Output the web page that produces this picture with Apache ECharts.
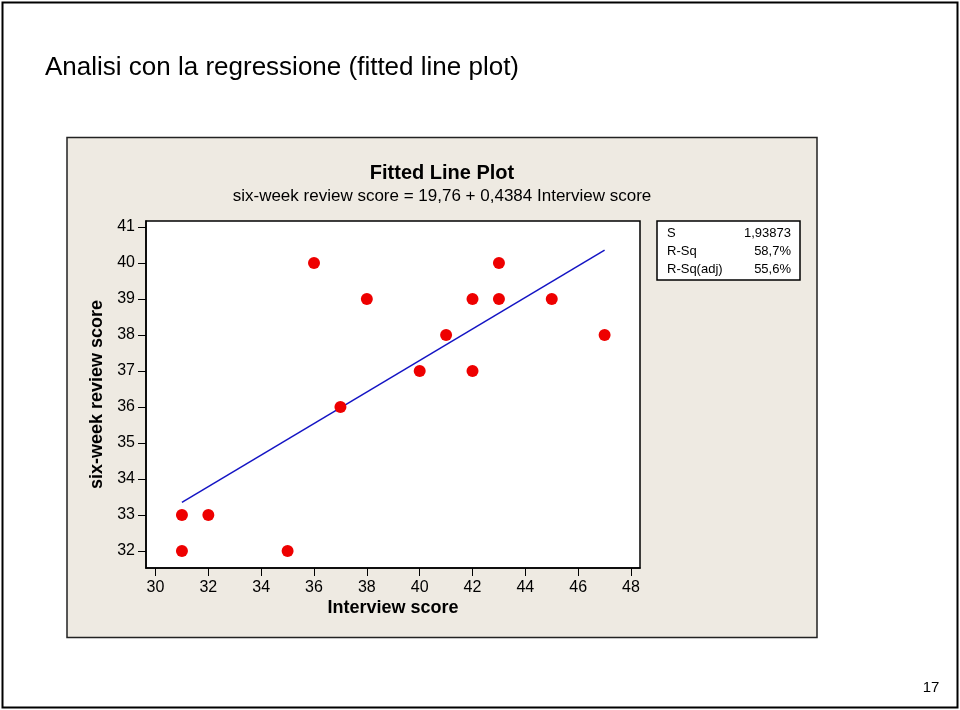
<!DOCTYPE html>
<html>
<head>
<meta charset="UTF-8">
<script src="https://cdn.jsdelivr.net/npm/echarts@6/dist/echarts.min.js"></script>
<style>
  html, body { margin: 0; padding: 0; background: #fff; }
  #main { width: 960px; height: 710px; }
</style>
</head>
<body>
<div id="main"></div>
<script>
// data
var interviewScore = [31, 31, 32, 35, 36, 37, 38, 40, 41, 42, 42, 43, 43, 45, 47];
var reviewScore    = [33, 32, 33, 32, 40, 36, 39, 37, 38, 39, 37, 40, 39, 39, 38];
// ends of the fitted line (19,76 + 0,4384 x), as drawn
var fitX = [31, 47];
var fitY = [33.35, 40.36];
var xTicks = [30, 32, 34, 36, 38, 40, 42, 44, 46, 48];
var yTicks = [32, 33, 34, 35, 36, 37, 38, 39, 40, 41];
var statNames  = ['S', 'R-Sq', 'R-Sq(adj)'];
var statValues = ['1,93873', '58,7%', '55,6%'];

var FONT = '"Liberation Sans", Arial, sans-serif';

var points = interviewScore.map(function (x, i) { return [x, reviewScore[i]]; });
var fitLine = fitX.map(function (x, i) { return [x, fitY[i]]; });

var statTexts = [];
statNames.forEach(function (n, i) {
  statTexts.push({ type: 'text', x: 667, y: 233 + i * 18,
    style: { text: n, font: '13px ' + FONT, fill: '#000', textVerticalAlign: 'middle' } });
  statTexts.push({ type: 'text', x: 791, y: 233 + i * 18,
    style: { text: statValues[i], font: '13px ' + FONT, fill: '#000', textAlign: 'right', textVerticalAlign: 'middle' } });
});

var chart = echarts.init(document.getElementById('main'));
chart.setOption({
  animation: false,
  backgroundColor: '#fff',
  grid: {
    left: 146, top: 221, width: 494, height: 347,
    show: true, backgroundColor: '#fff', borderColor: '#000', borderWidth: 1.5
  },
  xAxis: {
    type: 'value', min: 29.64, max: 48.34,
    name: 'Interview score', nameLocation: 'middle', nameGap: 31,
    nameTextStyle: { fontFamily: FONT, fontWeight: 'bold', fontSize: 18, color: '#000' },
    axisLine: { show: true, lineStyle: { color: '#000', width: 1.5 } },
    axisTick: { show: true, length: 8, customValues: xTicks, lineStyle: { color: '#000' } },
    axisLabel: { customValues: xTicks, margin: 12, fontFamily: FONT, fontSize: 16, color: '#000' },
    splitLine: { show: false }
  },
  yAxis: {
    type: 'value', min: 31.53, max: 41.167,
    name: 'six-week review score', nameLocation: 'middle', nameGap: 38,
    nameTextStyle: { fontFamily: FONT, fontWeight: 'bold', fontSize: 18, color: '#000' },
    axisLine: { show: true, lineStyle: { color: '#000', width: 1.5 } },
    axisTick: { show: true, length: 8, customValues: yTicks, lineStyle: { color: '#000' } },
    axisLabel: { customValues: yTicks, margin: 11, fontFamily: FONT, fontSize: 16, color: '#000' },
    splitLine: { show: false }
  },
  series: [
    {
      type: 'line', data: fitLine, symbol: 'none', z: 2,
      lineStyle: { color: '#1414c4', width: 1.5 }
    },
    {
      type: 'scatter', data: points, symbolSize: 12, z: 3,
      itemStyle: { color: '#ee0000', opacity: 1 }
    }
  ],
  graphic: [
    { type: 'rect', z: -1, shape: { x: 2.5, y: 2.5, width: 955, height: 705 },
      style: { fill: '#fff', stroke: '#000', lineWidth: 2 } },
    { type: 'rect', z: -1, shape: { x: 67, y: 137.5, width: 750, height: 500 },
      style: { fill: '#eeeae2', stroke: '#222', lineWidth: 1.5 } },
    { type: 'text', x: 45, y: 68,
      style: { text: 'Analisi con la regressione (fitted line plot)', font: '26px ' + FONT, fill: '#000', textVerticalAlign: 'middle' } },
    { type: 'text', x: 442, y: 173,
      style: { text: 'Fitted Line Plot', font: 'bold 20px ' + FONT, fill: '#000', textAlign: 'center', textVerticalAlign: 'middle' } },
    { type: 'text', x: 442, y: 196,
      style: { text: 'six-week review score = 19,76 + 0,4384 Interview score', font: '17px ' + FONT, fill: '#000', textAlign: 'center', textVerticalAlign: 'middle' } },
    { type: 'rect', shape: { x: 657, y: 221, width: 143, height: 59 },
      style: { fill: '#fff', stroke: '#000', lineWidth: 1.5 } }
  ].concat(statTexts).concat([
    { type: 'text', x: 931, y: 688,
      style: { text: '17', font: '15px ' + FONT, fill: '#000', textAlign: 'center', textVerticalAlign: 'middle' } }
  ])
});
</script>
</body>
</html>
